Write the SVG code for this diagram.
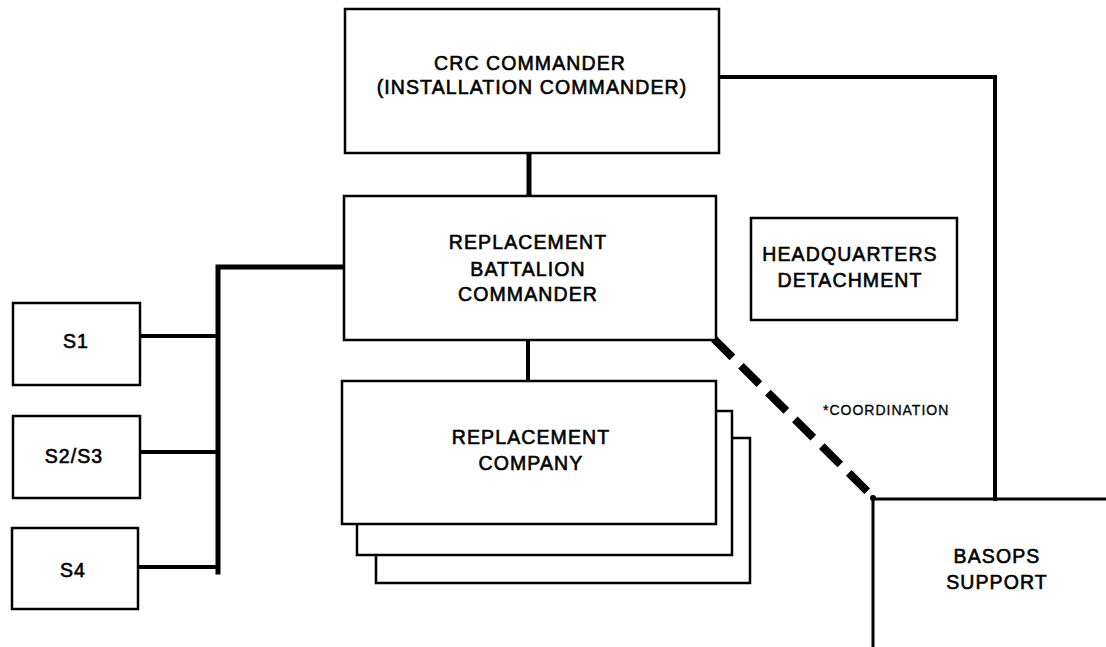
<svg xmlns="http://www.w3.org/2000/svg" width="1106" height="647" viewBox="0 0 1106 647">
<style>
.box{fill:#fff;stroke:#000;stroke-width:2.5}
.t{font-family:"Liberation Sans",Arial,sans-serif;font-size:19.5px;letter-spacing:1.1px;text-anchor:middle;fill:#000;stroke:#000;stroke-width:0.6px}
.s{font-family:"Liberation Sans",Arial,sans-serif;font-size:14px;letter-spacing:1px;fill:#000;stroke:#000;stroke-width:0.3px}
.c{fill:none;stroke:#000;stroke-linecap:square}
</style>
<rect width="1106" height="647" fill="#fff"/>
<g id="connectors">
<line class="c" x1="529" y1="153" x2="529" y2="195" stroke-width="5"/>
<line class="c" x1="528" y1="340" x2="528" y2="381" stroke-width="4"/>
<polyline class="c" points="718,77 995,77 995,499" stroke-width="4"/>
<polyline class="c" points="344,267 218,267 218,572" stroke-width="5"/>
<line class="c" x1="143" y1="336" x2="216" y2="336" stroke-width="4"/>
<line class="c" x1="143" y1="452" x2="216" y2="452" stroke-width="4"/>
<line class="c" x1="140" y1="567" x2="216" y2="567" stroke-width="4"/>
<line x1="714" y1="339" x2="873" y2="497" stroke="#000" stroke-width="8" stroke-dasharray="26 12" fill="none"/>
<circle cx="873" cy="498" r="3" fill="#000"/>
</g>
<g id="crc">
<rect class="box" x="345" y="9" width="374" height="144"/>
<text class="t" x="530" y="70">CRC COMMANDER</text>
<text class="t" x="532" y="94">(INSTALLATION COMMANDER)</text>
</g>
<g id="battalion">
<rect class="box" x="344" y="196" width="372" height="144"/>
<text class="t" x="528" y="249">REPLACEMENT</text>
<text class="t" x="528" y="276">BATTALION</text>
<text class="t" x="528" y="301">COMMANDER</text>
</g>
<g id="company">
<rect class="box" x="376" y="438" width="374" height="145"/>
<rect class="box" x="357" y="411" width="375" height="144"/>
<rect class="box" x="342" y="381" width="374" height="143"/>
<text class="t" x="531" y="444">REPLACEMENT</text>
<text class="t" x="531" y="470">COMPANY</text>
</g>
<g id="hq">
<rect class="box" x="751" y="218" width="206" height="102"/>
<text class="t" x="850" y="261">HEADQUARTERS</text>
<text class="t" x="850" y="287">DETACHMENT</text>
</g>
<g id="s1">
<rect class="box" x="13" y="303" width="127" height="82"/>
<text class="t" x="76" y="348">S1</text>
</g>
<g id="s2s3">
<rect class="box" x="13" y="416" width="127" height="82"/>
<text class="t" x="74" y="463">S2/S3</text>
</g>
<g id="s4">
<rect class="box" x="12" y="528" width="126" height="81"/>
<text class="t" x="73" y="577">S4</text>
</g>
<g id="basops">
<polyline points="873,647 873,499 1106,499" fill="none" stroke="#000" stroke-width="3"/>
<text class="t" x="997" y="563">BASOPS</text>
<text class="t" x="997" y="589">SUPPORT</text>
</g>
<g id="coordination">
<text class="s" x="823" y="415">*COORDINATION</text>
</g>
</svg>
